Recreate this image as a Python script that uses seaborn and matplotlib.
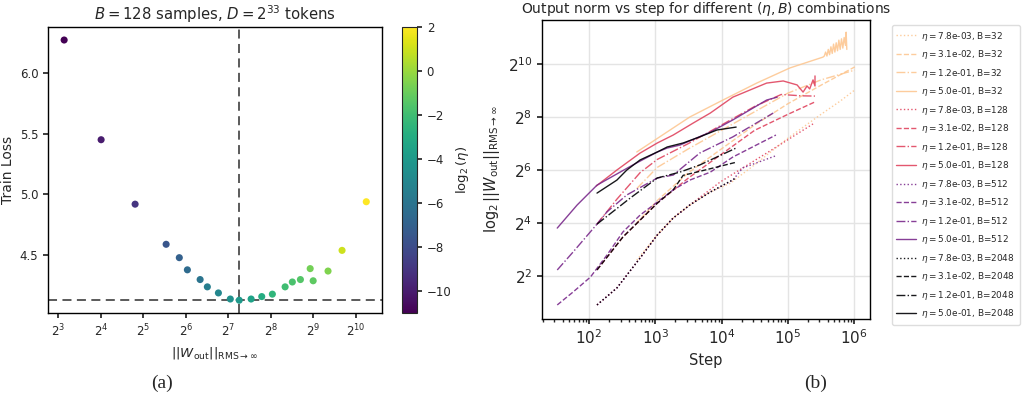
import numpy as np
import pandas as pd
import matplotlib
matplotlib.use("Agg")
import matplotlib.pyplot as plt
import matplotlib.ticker as mticker
from matplotlib.colors import Normalize
from matplotlib.cm import ScalarMappable
import seaborn as sns

# ---------------- data: panel (a) ----------------
a_log2_norm = [3.14, 4.01, 4.81, 5.54, 5.85, 6.04, 6.34, 6.51, 6.77, 7.05, 7.26,
               7.54, 7.79, 8.04, 8.34, 8.51, 8.70, 8.93, 9.00, 9.35, 9.68, 10.25]
a_loss = [6.27, 5.45, 4.92, 4.59, 4.48, 4.38, 4.30, 4.24, 4.19, 4.14, 4.13,
          4.14, 4.16, 4.18, 4.24, 4.28, 4.30, 4.39, 4.29, 4.37, 4.54, 4.94]
a_log2_eta = [-11, -10, -9, -7.5, -7, -6.5, -6, -5.5, -5, -4.5, -4,
              -3.5, -3, -2.5, -2, -1.75, -1.5, -0.75, -1.25, -0.5, 1, 2]
a_best_log2_norm = 7.26
a_best_loss = 4.13

# ---------------- data: panel (b) ----------------
# (log10 step, log2 norm)
etas = [7.8e-03, 3.1e-02, 1.2e-01, 5.0e-01]
batch_sizes = [32, 128, 512, 2048]

b32_e0_lx = [2.72, 3.03, 3.27, 3.52, 3.83, 4.13, 4.5, 5.0, 5.5, 5.79, 6.01]
b32_e0_ly = [2.60, 3.55, 4.19, 4.68, 5.17, 5.50, 6.20, 7.20, 8.10, 8.60, 9.02]
b32_e1_lx = [2.72, 3.03, 3.5, 4.0, 4.5, 5.0, 5.5, 6.01]
b32_e1_ly = [4.00, 4.85, 5.90, 6.80, 7.70, 8.50, 9.20, 9.89]
b32_e2_lx = [2.72, 3.03, 3.5, 4.0, 4.5, 5.0, 5.5, 6.01]
b32_e2_ly = [5.30, 6.10, 6.80, 7.50, 8.20, 8.90, 9.40, 9.77]
b32_e3_lx = [2.72, 3.52, 4.02, 4.53, 5.03, 5.53, 5.55, 5.57, 5.59, 5.61, 5.63, 5.65,
             5.67, 5.69, 5.71, 5.73, 5.75, 5.77, 5.79, 5.81, 5.83, 5.85, 5.87, 5.88, 5.89]
b32_e3_ly = [6.68, 8.00, 8.64, 9.28, 9.85, 10.26, 10.30, 10.45, 10.30, 10.55, 10.35, 10.65,
             10.40, 10.75, 10.45, 10.80, 10.50, 10.90, 10.55, 10.95, 10.60, 11.00, 10.70, 11.20, 10.55]

b128_e0_lx = [2.12, 2.42, 2.77, 3.03, 3.27, 3.52, 3.98, 4.68, 5.38]
b128_e0_ly = [0.91, 1.55, 2.68, 3.55, 4.19, 4.68, 5.55, 6.64, 7.74]
b128_e1_lx = [2.12, 2.51, 2.77, 3.03, 3.5, 4.0, 4.5, 5.0, 5.41]
b128_e1_ly = [2.23, 3.47, 4.11, 4.75, 5.70, 6.60, 7.50, 8.10, 8.57]
b128_e2_lx = [2.12, 2.42, 2.77, 3.03, 3.5, 4.0, 4.5, 4.9, 5.2, 5.41]
b128_e2_ly = [3.96, 4.90, 5.90, 6.40, 7.00, 7.70, 8.40, 8.85, 8.80, 8.79]
b128_e3_lx = [2.11, 2.42, 2.77, 3.03, 3.27, 3.57, 3.83, 4.17, 4.68, 4.93, 5.14, 5.23,
              5.29, 5.33, 5.38, 5.41, 5.41]
b128_e3_ly = [5.40, 6.00, 6.64, 7.02, 7.32, 7.77, 8.15, 8.75, 9.28, 9.36, 9.21, 8.94,
              9.17, 9.06, 9.40, 9.17, 9.55]

b512_e0_lx = [2.12, 2.42, 2.77, 3.03, 3.27, 3.52, 3.83, 4.17, 4.32, 4.81]
b512_e0_ly = [0.91, 1.55, 2.68, 3.55, 4.19, 4.68, 5.17, 5.62, 6.08, 6.53]
b512_e1_lx = [1.52, 1.76, 2.02, 2.27, 2.51, 2.77, 3.03, 3.27, 3.52, 3.83, 4.17, 4.82]
b512_e1_ly = [0.91, 1.40, 1.96, 2.79, 3.66, 4.30, 4.79, 5.25, 5.62, 5.92, 6.49, 7.32]
b512_e2_lx = [1.52, 1.76, 2.12, 2.27, 2.57, 3.03, 3.27, 3.67, 4.17, 4.78]
b512_e2_ly = [2.23, 2.91, 3.96, 4.42, 5.06, 5.70, 5.81, 6.64, 7.25, 8.15]
b512_e3_lx = [1.52, 1.82, 2.12, 2.66, 3.03, 3.18, 3.37, 3.83, 4.17, 4.68, 4.84]
b512_e3_ly = [3.81, 4.68, 5.43, 6.19, 6.68, 6.83, 6.94, 7.43, 7.89, 8.64, 8.75]

b2048_e0_lx = [2.12, 2.42, 2.77, 3.03, 3.27, 3.52, 3.83, 4.22]
b2048_e0_ly = [0.91, 1.55, 2.68, 3.55, 4.19, 4.68, 5.17, 5.70]
b2048_e1_lx = [2.12, 2.51, 2.77, 3.03, 3.27, 3.42, 3.67, 4.23]
b2048_e1_ly = [2.23, 3.47, 4.11, 4.75, 5.25, 5.80, 5.95, 6.30]
b2048_e2_lx = [2.12, 2.62, 3.03, 3.37, 3.67, 4.22]
b2048_e2_ly = [3.96, 4.94, 5.70, 5.92, 6.19, 6.83]
b2048_e3_lx = [2.12, 2.42, 2.57, 2.77, 3.03, 3.18, 3.42, 3.67, 3.93, 4.22]
b2048_e3_ly = [5.13, 5.62, 6.00, 6.38, 6.68, 6.87, 7.02, 7.25, 7.51, 7.62]

series = {
    (32, 0): (b32_e0_lx, b32_e0_ly), (32, 1): (b32_e1_lx, b32_e1_ly),
    (32, 2): (b32_e2_lx, b32_e2_ly), (32, 3): (b32_e3_lx, b32_e3_ly),
    (128, 0): (b128_e0_lx, b128_e0_ly), (128, 1): (b128_e1_lx, b128_e1_ly),
    (128, 2): (b128_e2_lx, b128_e2_ly), (128, 3): (b128_e3_lx, b128_e3_ly),
    (512, 0): (b512_e0_lx, b512_e0_ly), (512, 1): (b512_e1_lx, b512_e1_ly),
    (512, 2): (b512_e2_lx, b512_e2_ly), (512, 3): (b512_e3_lx, b512_e3_ly),
    (2048, 0): (b2048_e0_lx, b2048_e0_ly), (2048, 1): (b2048_e1_lx, b2048_e1_ly),
    (2048, 2): (b2048_e2_lx, b2048_e2_ly), (2048, 3): (b2048_e3_lx, b2048_e3_ly),
}

# ---------------- styling ----------------
sns.set_theme(style="ticks")
plt.rcParams["font.family"] = ["DejaVu Sans"]
plt.rcParams["mathtext.fontset"] = "dejavusans"

b_colors = {32: "#fdc48c", 128: "#e0455f", 512: "#7a2a8c", 2048: "#000004"}
eta_styles = [":", "--", "-.", "-"]

fig = plt.figure(figsize=(10.22, 4.0), dpi=100)

# ---------------- panel (a) ----------------
axA = fig.add_axes([48 / 1022, 87 / 400, 334 / 1022, 286 / 400])
dfA = pd.DataFrame({"norm": [2.0 ** v for v in a_log2_norm],
                    "loss": a_loss, "leta": a_log2_eta})
sns.scatterplot(data=dfA, x="norm", y="loss", hue="leta", palette="viridis",
                hue_norm=(-11, 2), legend=False, s=26, linewidth=0, ax=axA, zorder=3)
axA.set_xscale("log", base=2)
axA.set_xlim(2 ** 2.76, 2 ** 10.62)
axA.set_ylim(4.025, 6.377)
axA.xaxis.set_major_locator(mticker.FixedLocator([2.0 ** k for k in range(3, 11)]))
axA.xaxis.set_major_formatter(mticker.LogFormatterMathtext(base=2))
axA.xaxis.set_minor_locator(mticker.NullLocator())
axA.set_yticks([4.5, 5.0, 5.5, 6.0])
axA.axvline(2 ** a_best_log2_norm, color="#4d4d4d", linestyle=(0, (5, 3)), linewidth=1.3, zorder=2)
axA.axhline(a_best_loss, color="#4d4d4d", linestyle=(0, (5, 3)), linewidth=1.3, zorder=2)
axA.tick_params(labelsize=8.5, length=3.5)
axA.set_xlabel(r"$||W_{\mathrm{out}}||_{\mathrm{RMS}\rightarrow\infty}$", fontsize=9.5)
axA.set_ylabel("Train Loss", fontsize=10)
axA.yaxis.set_label_coords(-0.1, 0.5)
axA.set_title(r"$B = 128$ samples, $D = 2^{33}$ tokens", fontsize=10.7, pad=5)
for s in axA.spines.values():
    s.set_color("black")
    s.set_linewidth(1.0)

cax = fig.add_axes([402 / 1022, 87 / 400, 15 / 1022, 286 / 400])
sm = ScalarMappable(norm=Normalize(-11, 2), cmap="viridis")
cb = fig.colorbar(sm, cax=cax, ticks=[-10, -8, -6, -4, -2, 0, 2])
cb.ax.tick_params(labelsize=8.5, length=3.5)
cb.set_label(r"$\log_2(\eta)$", fontsize=9.5)
cb.ax.yaxis.set_label_coords(3.45, 0.5)
cb.outline.set_linewidth(0.8)

# ---------------- panel (b) ----------------
axB = fig.add_axes([542 / 1022, 81 / 400, 328 / 1022, 299 / 400])
for bi, B in enumerate(batch_sizes):
    for ei, eta in enumerate(etas):
        lx, ly = series[(B, ei)]
        steps = [10.0 ** v for v in lx]
        norms = [2.0 ** v for v in ly]
        alpha = 0.85 if B == 32 else 0.9
        sns.lineplot(x=steps, y=norms, ax=axB, color=b_colors[B],
                     linestyle=eta_styles[ei], linewidth=1.0, alpha=alpha,
                     estimator=None, sort=False,
                     label=rf"$\eta = ${eta:.1e}, B={B}")
axB.set_xscale("log")
axB.set_yscale("log", base=2)
axB.set_xlim(10 ** 1.29, 10 ** 6.24)
axB.set_ylim(2 ** 0.38, 2 ** 11.66)
axB.yaxis.set_major_locator(mticker.FixedLocator([2.0 ** k for k in (2, 4, 6, 8, 10)]))
axB.yaxis.set_major_formatter(mticker.LogFormatterMathtext(base=2))
axB.yaxis.set_minor_locator(mticker.NullLocator())
axB.xaxis.set_major_locator(mticker.FixedLocator([1e2, 1e3, 1e4, 1e5, 1e6]))
axB.xaxis.set_major_formatter(mticker.LogFormatterMathtext(base=10))
axB.grid(True, color="#e4e4e4", linewidth=1.0)
axB.set_axisbelow(True)
axB.tick_params(axis="both", which="major", labelsize=11, length=3.5)
axB.tick_params(axis="x", which="minor", length=2)
axB.set_xlabel("Step", fontsize=10.5)
axB.set_ylabel(r"$\log_2||W_{\mathrm{out}}||_{\mathrm{RMS}\rightarrow\infty}$", fontsize=10.5)
axB.set_title(r"Output norm vs step for different $(\eta, B)$ combinations", fontsize=10, pad=5)
for s in axB.spines.values():
    s.set_color("black")
    s.set_linewidth(1.0)
axB.legend(loc="upper left", bbox_to_anchor=(1.067, 0.983), borderaxespad=0,
           fontsize=6.4, frameon=True, labelspacing=0.62, handlelength=2.2,
           handletextpad=0.6, borderpad=0.5,
           fancybox=True, framealpha=1, edgecolor="#dddddd")

# captions
fig.text(162 / 1022, 1 - 383 / 400, "(a)", ha="center", va="center",
         fontsize=14, family="Liberation Serif")
fig.text(816 / 1022, 1 - 383 / 400, "(b)", ha="center", va="center",
         fontsize=14, family="Liberation Serif")

fig.savefig("out.png", dpi=100)
